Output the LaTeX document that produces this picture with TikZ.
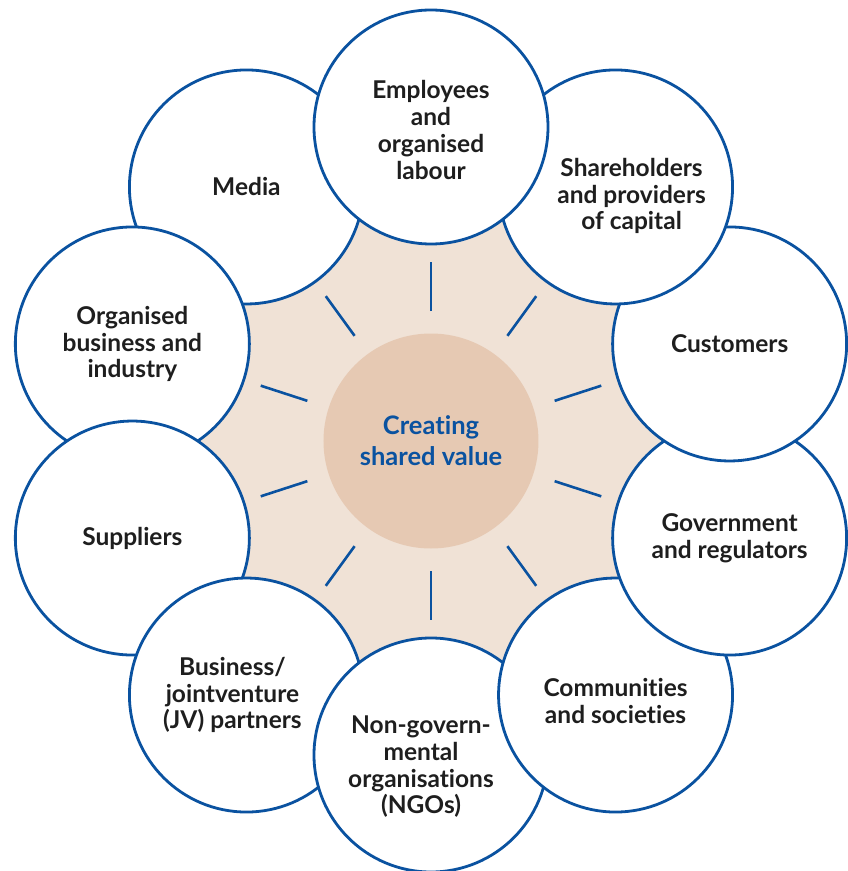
\documentclass[tikz,border=0pt]{standalone}
\usepackage{fontspec}
\setmainfont{Lato}[Ligatures=NoCommon]
\usepackage{xcolor}
\usetikzlibrary{positioning}
\definecolor{ringblue}{HTML}{0A52A0}
\definecolor{sandbg}{HTML}{F0E2D6}
\definecolor{corefill}{HTML}{E6C9B3}
\definecolor{labelink}{HTML}{1E1E1E}

\begin{document}
\begin{tikzpicture}[x=1pt, y=1pt,
        stake/.style={circle, draw=ringblue, line width=2.8pt, fill=white, minimum size=234pt, inner sep=0pt},
        stakelabel/.style={align=center, text=labelink, inner sep=0pt, font=\fontsize{24.5}{26.7}\selectfont\bfseries},
        core/.style={circle, fill=corefill, minimum size=215pt, inner sep=0pt, align=center, text=ringblue, font=\fontsize{25.5}{31}\selectfont\bfseries},
        spoke/.style={ringblue, line width=2.6pt}]
        \useasboundingbox (-431,-430) rectangle (416,441);
        % sand background and centre
        \fill[sandbg] (0,0) circle (300);
        \node[core] (core) at (0,0) {Creating\\shared value};
        \foreach \ang in {90,54,18,-18,-54,-90,-126,-162,162,126}
            \draw[spoke] (\ang:130) -- (\ang:179);
        % stakeholder circles, lowest first
        \foreach \ang/\name in {126/media, 162/orgbiz, 198/suppliers, 234/partners, 270/ngos, 306/communities, 342/government, 18/customers, 54/shareholders, 90/employees}
            \node[stake] (\name) at (\ang:314) {};
        \node[stakelabel] (media-txt) at (media) {Media};
        \node[stakelabel] (orgbiz-txt) at (orgbiz) {Organised\\business and\\industry};
        \node[stakelabel] (suppliers-txt) at (suppliers) {Suppliers};
        \node[stakelabel, xshift=-14] (partners-txt) at (partners) {Business/\\jointventure\\(JV) partners};
        \node[stakelabel, xshift=-10, yshift=-12] (ngos-txt) at (ngos) {Non-govern-\\mental\\organisations\\(NGOs)};
        \node[stakelabel, yshift=-6] (communities-txt) at (communities) {Communities\\and societies};
        \node[stakelabel] (government-txt) at (government) {Government\\and regulators};
        \node[stakelabel] (customers-txt) at (customers) {Customers};
        \node[stakelabel, xshift=16, yshift=-9] (shareholders-txt) at (shareholders) {Shareholders\\and providers\\of capital};
        \node[stakelabel, yshift=-3] (employees-txt) at (employees) {Employees\\and\\organised\\labour};
\end{tikzpicture}
\end{document}
